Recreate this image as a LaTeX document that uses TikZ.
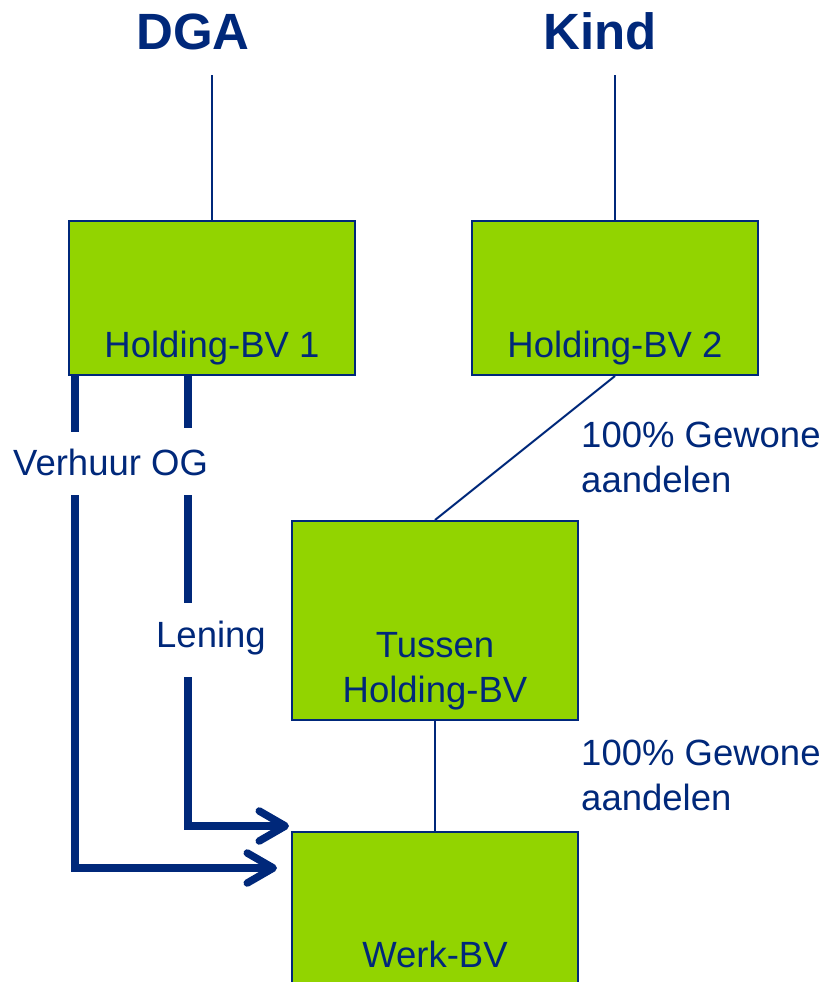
\documentclass[tikz,border=0pt]{standalone}
\usepackage{fontspec}
\setmainfont{Liberation Sans}
\usetikzlibrary{arrows.meta}
\definecolor{navy}{RGB}{0,40,122}
\definecolor{bvgreen}{RGB}{146,212,0}
\begin{document}
\begin{tikzpicture}[x=1pt,y=-1pt,
  bvbox/.style={draw=navy, line width=2pt, fill=bvgreen, inner sep=0pt, minimum width=286pt},
  txt/.style={text=navy, font=\fontsize{36.5}{45}\selectfont, inner sep=0pt},
  ttl/.style={text=navy, font=\fontsize{51}{60}\selectfont\bfseries, inner sep=0pt},
  thinline/.style={draw=navy, line width=2pt},
  flow/.style={draw=navy, line width=7.5pt},
  flowarrow/.style={flow, -{Straight Barb[length=26pt,width=30pt,round]}}]
\useasboundingbox (0,0) rectangle (829,982);
% boxes
\node[bvbox, minimum height=154pt] (hb1) at (212,298) {};
\node[bvbox, minimum height=154pt] (hb2) at (615,298) {};
\node[bvbox, minimum height=199pt] (tus) at (435,620.5) {};
\node[bvbox, minimum height=180pt] (werk) at (435,922) {};
% box texts
\node[txt, anchor=base] (hb1t) at (212,357) {Holding-BV 1};
\node[txt, anchor=base] (hb2t) at (615,357) {Holding-BV 2};
\node[txt, anchor=base, align=center] (tust) at (435,702) {Tussen\\Holding-BV};
\node[txt, anchor=base] (werkt) at (435,967) {Werk-BV};
% titles
\node[ttl, anchor=base] (dga) at (193,49) {DGA};
\node[ttl, anchor=base] (kind) at (600,49) {Kind};
% labels
\node[txt, anchor=base west, align=left] (pct1) at (581,492) {100\% Gewone\\aandelen};
\node[txt, anchor=base west, align=left] (pct2) at (581,810) {100\% Gewone\\aandelen};
\node[txt, anchor=base west] (verh) at (13,475) {Verhuur OG};
\node[txt, anchor=base] (len) at (211,647) {Lening};
% thin ownership lines
\coordinate (dgaline) at (212,75);
\coordinate (kindline) at (615,75);
\draw[thinline] (dgaline) -- (hb1.north);
\draw[thinline] (kindline) -- (hb2.north);
\draw[thinline] (hb2.south) -- (tus.north);
\draw[thinline] (tus.south) -- (werk.north);
% thick flows
\coordinate (a1) at (75,432);
\coordinate (a2) at (75,495);
\coordinate (a3) at (277,868);
\coordinate (b1) at (188,428);
\coordinate (b2) at (188,495);
\coordinate (b3) at (188,603);
\coordinate (b4) at (188,677);
\coordinate (b5) at (289,826);
\draw[flow] (a1 |- hb1.south) -- (a1);
\draw[flowarrow] (a2) |- (a3);
\draw[flow] (b1 |- hb1.south) -- (b1);
\draw[flow] (b2) -- (b3);
\draw[flowarrow] (b4) |- (b5);
\end{tikzpicture}
\end{document}
